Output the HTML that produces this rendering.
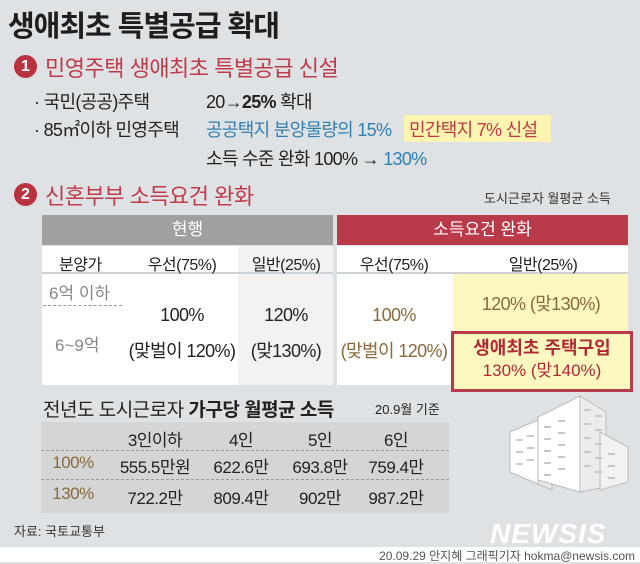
<!DOCTYPE html>
<html><head><meta charset="utf-8"><style>
body{margin:0;width:640px;height:562px;overflow:hidden;background:#dfe2e4;font-family:"Liberation Sans","Noto Sans CJK KR",sans-serif;color:#222;position:relative}
div,span{position:absolute;white-space:nowrap}
.c{text-align:center}
.br{color:#8a6a3a}
</style></head><body>
<div style="left:8px;top:3px;font-size:29px;font-weight:bold;color:#1e1e1e;letter-spacing:-1px">생애최초 특별공급 확대</div>

<div style="left:14px;top:55px;width:23px;height:23px;border-radius:50%;background:#b8323f;color:#fff;font-size:16px;font-weight:bold;text-align:center;line-height:23px">1</div>
<div style="left:45px;top:51px;font-size:22px;color:#c03a48;letter-spacing:-0.5px">민영주택 생애최초 특별공급 신설</div>

<div style="left:34px;top:88px;font-size:18px;letter-spacing:-0.7px">· 국민(공공)주택</div>
<div style="left:206px;top:88px;font-size:18px;letter-spacing:-0.7px">20→<b>25%</b> 확대</div>
<div style="left:34px;top:116px;font-size:18px;letter-spacing:-0.7px">· 85㎡이하 민영주택</div>
<div style="left:206px;top:116px;font-size:18px;color:#2f7fb0;letter-spacing:-0.7px">공공택지 분양물량의 15%</div>
<div style="left:404px;top:115px;width:147px;height:27px;background:#fdf4b0"></div>
<div style="left:409px;top:116px;font-size:18px;color:#c03a48;letter-spacing:-0.7px">민간택지 7% 신설</div>
<div style="left:206px;top:145px;font-size:18px;letter-spacing:-0.7px">소득 수준 완화 100% → <span style="position:static;color:#2f7fb0">130%</span></div>

<div style="left:14px;top:183px;width:23px;height:23px;border-radius:50%;background:#b8323f;color:#fff;font-size:16px;font-weight:bold;text-align:center;line-height:23px">2</div>
<div style="left:45px;top:179px;font-size:22px;color:#c03a48;letter-spacing:-0.5px">신혼부부 소득요건 완화</div>
<div style="left:484px;top:188px;font-size:13px;color:#333">도시근로자 월평균 소득</div>

<div class="c" style="left:42px;top:215px;width:291px;height:30px;background:#a0a0a0;color:#fff;font-size:17px;line-height:30px">현행</div>
<div class="c" style="left:337px;top:215px;width:291px;height:30px;background:#b93a48;color:#fff;font-size:17px;line-height:30px">소득요건 완화</div>
<div style="left:42px;top:246px;width:291px;height:139px;background:#fff"></div>
<div style="left:238px;top:246px;width:95px;height:139px;background:#f2f2f2"></div>
<div style="left:337px;top:246px;width:291px;height:139px;background:#fff"></div>
<div style="left:42px;top:272px;width:291px;height:2px;background:#cfd2d4"></div>
<div style="left:337px;top:272px;width:291px;height:2px;background:#cfd2d4"></div>
<div style="left:453px;top:274px;width:175px;height:111px;background:#fdf8c0"></div>

<div style="left:59px;top:251px;font-size:16px;letter-spacing:-0.5px">분양가</div>
<div class="c" style="left:132px;top:251px;width:100px;font-size:16px;letter-spacing:-0.5px">우선(75%)</div>
<div class="c" style="left:236px;top:251px;width:100px;font-size:16px;letter-spacing:-0.5px">일반(25%)</div>
<div class="c" style="left:344px;top:251px;width:100px;font-size:16px;letter-spacing:-0.5px">우선(75%)</div>
<div class="c" style="left:493px;top:251px;width:100px;font-size:16px;letter-spacing:-0.5px">일반(25%)</div>

<div style="left:49px;top:279px;font-size:17px;color:#888">6억 이하</div>
<div style="left:43px;top:305px;width:79px;border-top:1px dashed #999"></div>
<div style="left:55px;top:331px;font-size:17px;color:#888">6~9억</div>

<div class="c" style="left:117px;top:297px;width:130px;font-size:18px;line-height:36px;letter-spacing:-0.6px">100%<br>(맞벌이 120%)</div>
<div class="c" style="left:236px;top:297px;width:100px;font-size:18px;line-height:36px;letter-spacing:-0.6px">120%<br>(맞130%)</div>
<div class="c br" style="left:329px;top:297px;width:130px;font-size:18px;line-height:36px;letter-spacing:-0.6px">100%<br>(맞벌이 120%)</div>
<div class="c br" style="left:451px;top:290px;width:180px;font-size:18px;letter-spacing:-0.6px">120% (맞130%)</div>
<div class="c" style="left:451px;top:331px;width:176px;height:52px;border:3px solid #b93a48;background:#fdf8c0;color:#b02a36;font-size:17px;line-height:22px;padding-top:3px;box-sizing:content-box"><b style="font-size:18px">생애최초 주택구입</b><br>130% (맞140%)</div>

<div style="left:43px;top:395px;font-size:19px;letter-spacing:-0.5px">전년도 도시근로자 <b>가구당 월평균 소득</b></div>
<div style="left:375px;top:399px;font-size:13px">20.9월 기준</div>
<div style="left:41px;top:422px;width:408px;height:91px;background:#d3d5d7"></div>
<div style="left:41px;top:450px;width:408px;border-top:1px dashed #999"></div>
<div style="left:41px;top:479px;width:408px;border-top:1px dashed #999"></div>

<svg style="position:absolute;left:508px;top:392px" width="122" height="105" viewBox="0 0 122 105">
<polygon points="2,40 30,28 30,92 2,80" fill="#fff" stroke="#bbb"/>
<polygon points="30,28 44,35 44,98 30,92" fill="#e8e8e8" stroke="#bbb"/>
<polygon points="30,25 72,4 72,100 30,88" fill="#fff" stroke="#bbb"/>
<polygon points="72,4 98,20 98,95 72,100" fill="#ececec" stroke="#bbb"/>
<polygon points="92,40 120,55 120,90 92,98" fill="#f2f2f2" stroke="#bbb"/>
<g fill="none" stroke="#c8c8c8" stroke-width="2">
<path d="M36,35h7M50,29h7M36,47h7M50,41h7M36,59h7M50,53h7M36,71h7M50,65h7M36,83h7M50,77h7M76,18h7M87,24h7M76,32h7M87,38h7M76,46h7M87,52h7M76,60h7M87,66h7M76,74h7M87,80h7M8,48h7M19,44h7M8,60h7M19,56h7M8,72h7M19,68h7M100,62h7M100,74h7M100,86h7"/></g>
</svg>

<div style="left:14px;top:521px;font-size:13px;color:#333">자료: 국토교통부</div>
<div style="left:490px;top:518px;font-size:28px;font-weight:bold;font-style:italic;color:#fff;letter-spacing:1px">NEWSIS</div>
<div style="left:0;top:547px;width:640px;height:15px;background:#fff"></div>
<div style="right:5px;top:547px;font-size:12px;color:#555">20.09.29 안지혜 그래픽기자 hokma@newsis.com</div>

<script>
const headers=["3인이하","4인","5인","6인"];
const rowLabels=["100%","130%"];
const row100=["555.5만원","622.6만","693.8만","759.4만"];
const row130=["722.2만","809.4만","902만","987.2만"];
const cx=[155,241,320,396];
function cell(txt,x,y,name,cls){const d=document.createElement('div');d.className='c '+(cls||'');d.style.left=(x-45)+'px';d.style.top=y+'px';d.style.width='90px';d.style.fontSize='17px';d.style.letterSpacing='-0.5px';d.textContent=txt;


document.body.appendChild(d);}
headers.forEach((h,i)=>cell(h,cx[i],426,'income-col-'+i));
cell(rowLabels[0],73,453,'row-label-100','br');
cell(rowLabels[1],73,484,'row-label-130','br');
row100.forEach((v,i)=>cell(v,cx[i],453,'income-100-'+i));
row130.forEach((v,i)=>cell(v,cx[i],484,'income-130-'+i));
</script>
</body></html>
